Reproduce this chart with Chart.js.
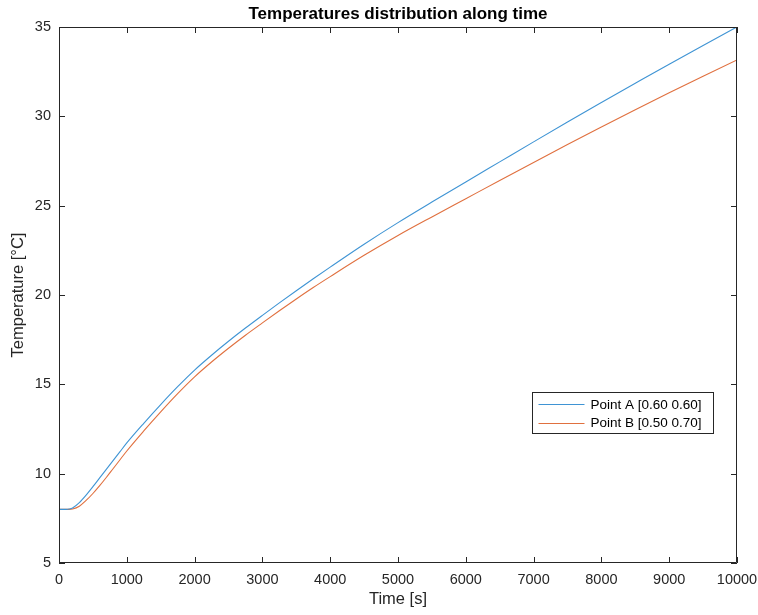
<!DOCTYPE html>
<html>
<head>
<meta charset="utf-8">
<script src="https://cdn.jsdelivr.net/npm/chart.js@4"></script>
<style>
    html, body { margin: 0; padding: 0; background: #ffffff; }
    #wrap { width: 758px; height: 615px; }
</style>
</head>
<body>
<div id="wrap"><canvas id="tempChart" width="758" height="615"></canvas></div>
<script>
const times = [0, 100, 150, 200, 300, 400, 500, 600, 700, 800, 900, 1000, 1250, 1500, 1750, 2000, 2250, 2500, 2750, 3000, 3250, 3500, 3750, 4000, 4500, 5000, 5500, 6000, 6500, 7000, 7500, 8000, 8500, 9000, 9500, 10000];
const pointA = [8.0, 8.0, 8.02, 8.08, 8.38, 8.8, 9.27, 9.76, 10.25, 10.74, 11.23, 11.72, 12.82, 13.87, 14.87, 15.8, 16.63, 17.41, 18.15, 18.86, 19.56, 20.24, 20.91, 21.56, 22.84, 24.05, 25.2, 26.33, 27.45, 28.57, 29.68, 30.77, 31.85, 32.92, 33.96, 35.0];
const pointB = [8.0, 8.0, 8.0, 8.02, 8.18, 8.5, 8.89, 9.33, 9.8, 10.29, 10.78, 11.27, 12.39, 13.46, 14.48, 15.42, 16.25, 17.02, 17.75, 18.44, 19.12, 19.78, 20.42, 21.03, 22.22, 23.33, 24.37, 25.39, 26.41, 27.42, 28.42, 29.4, 30.37, 31.32, 32.24, 33.16];
const seriesLabels = ["Point A [0.60 0.60]", "Point B [0.50 0.70]"];
const seriesColors = ["#3f94d4", "#e0703f"];
const xTicks = [0, 10000, 1000];
const yTicks = [5, 35, 5];
const chartTitle = "Temperatures distribution along time";

const axisColor = "#262626";
const fontFamily = "'Liberation Sans', Arial, Helvetica, sans-serif";

function toPoints(xs, ys)
{
    return xs.map((t, i) => ({ x: t, y: ys[i] }));
}

// box round the plot with inward ticks on all four sides, like MATLAB
const framePlugin =
{
    id: "frame",
    afterDatasetsDraw(chart)
    {
        const { ctx, chartArea: a, scales } = chart;
        const len = 6;
        ctx.save();
        ctx.strokeStyle = axisColor;
        ctx.lineWidth = 1;
        ctx.beginPath();
        ctx.rect(Math.round(a.left) + 0.5, Math.round(a.top) + 0.5, Math.round(a.right - a.left) - 1, Math.round(a.bottom - a.top) - 1);
        scales.x.ticks.forEach(t =>
        {
            const px = Math.round(scales.x.getPixelForValue(t.value)) + 0.5;
            ctx.moveTo(px, a.bottom);
            ctx.lineTo(px, a.bottom - len);
            ctx.moveTo(px, a.top);
            ctx.lineTo(px, a.top + len);
        });
        scales.y.ticks.forEach(t =>
        {
            const py = Math.round(scales.y.getPixelForValue(t.value)) + 0.5;
            ctx.moveTo(a.left, py);
            ctx.lineTo(a.left + len, py);
            ctx.moveTo(a.right, py);
            ctx.lineTo(a.right - len, py);
        });
        ctx.stroke();

        // title centred over the plot box
        ctx.fillStyle = "#000000";
        ctx.font = "bold 17px " + fontFamily;
        ctx.textAlign = "center";
        ctx.textBaseline = "middle";
        ctx.fillText(chartTitle, (a.left + a.right) / 2, 14);
        ctx.restore();
    }
};

// boxed legend inside the plot, right side
const boxLegendPlugin =
{
    id: "boxLegend",
    afterDraw(chart)
    {
        const ctx = chart.ctx;
        const left = 532.5, top = 392.5, w = 181, h = 41;
        ctx.save();
        ctx.fillStyle = "#ffffff";
        ctx.fillRect(left, top, w, h);
        ctx.strokeStyle = axisColor;
        ctx.lineWidth = 1;
        ctx.strokeRect(left, top, w, h);
        ctx.font = "13.5px " + fontFamily;
        ctx.textBaseline = "middle";
        chart.data.datasets.forEach((ds, i) =>
        {
            const yy = top + 11.5 + i * 18.5;
            ctx.strokeStyle = ds.borderColor;
            ctx.beginPath();
            ctx.moveTo(left + 6, Math.round(yy) + 0.5);
            ctx.lineTo(left + 52, Math.round(yy) + 0.5);
            ctx.stroke();
            ctx.fillStyle = "#000000";
            ctx.fillText(ds.label, left + 58, yy + 1);
        });
        ctx.restore();
    }
};

new Chart(document.getElementById("tempChart"),
{
    type: "line",
    data:
    {
        datasets:
        [
            {
                label: seriesLabels[0],
                data: toPoints(times, pointA),
                borderColor: seriesColors[0],
                borderWidth: 1.1,
                pointRadius: 0,
                cubicInterpolationMode: "monotone",
                fill: false
            },
            {
                label: seriesLabels[1],
                data: toPoints(times, pointB),
                borderColor: seriesColors[1],
                borderWidth: 1.1,
                pointRadius: 0,
                cubicInterpolationMode: "monotone",
                fill: false
            }
        ]
    },
    options:
    {
        responsive: false,
        animation: false,
        devicePixelRatio: 1,
        layout:
        {
            padding: { left: 0, right: 21, top: 27, bottom: 0 }
        },
        plugins:
        {
            legend: { display: false },
            tooltip: { enabled: false },
            title: { display: false }
        },
        scales:
        {
            x:
            {
                type: "linear",
                min: xTicks[0],
                max: xTicks[1],
                afterFit: s => { s.height = 52; s.paddingLeft = 0; s.paddingRight = 0; },
                grid: { display: false, drawTicks: false },
                border: { display: false },
                ticks:
                {
                    stepSize: xTicks[2],
                    autoSkip: false,
                    maxRotation: 0,
                    padding: 8,
                    color: axisColor,
                    font: { family: fontFamily, size: 14.5 },
                    callback: v => String(v)
                },
                title:
                {
                    display: true,
                    text: "Time [s]",
                    color: axisColor,
                    font: { family: fontFamily, size: 16.5 },
                    padding: { top: 0, bottom: 6 }
                }
            },
            y:
            {
                min: yTicks[0],
                max: yTicks[1],
                afterFit: s => { s.width = 59; s.paddingTop = 0; s.paddingBottom = 0; },
                grid: { display: false, drawTicks: false },
                border: { display: false },
                ticks:
                {
                    stepSize: yTicks[2],
                    padding: 8,
                    color: axisColor,
                    font: { family: fontFamily, size: 14.5 },
                    callback: v => String(v)
                },
                title:
                {
                    display: true,
                    text: "Temperature [°C]",
                    color: axisColor,
                    font: { family: fontFamily, size: 16.5 },
                    padding: { top: 9, bottom: 0 }
                }
            }
        }
    },
    plugins: [framePlugin, boxLegendPlugin]
});
</script>
</body>
</html>
